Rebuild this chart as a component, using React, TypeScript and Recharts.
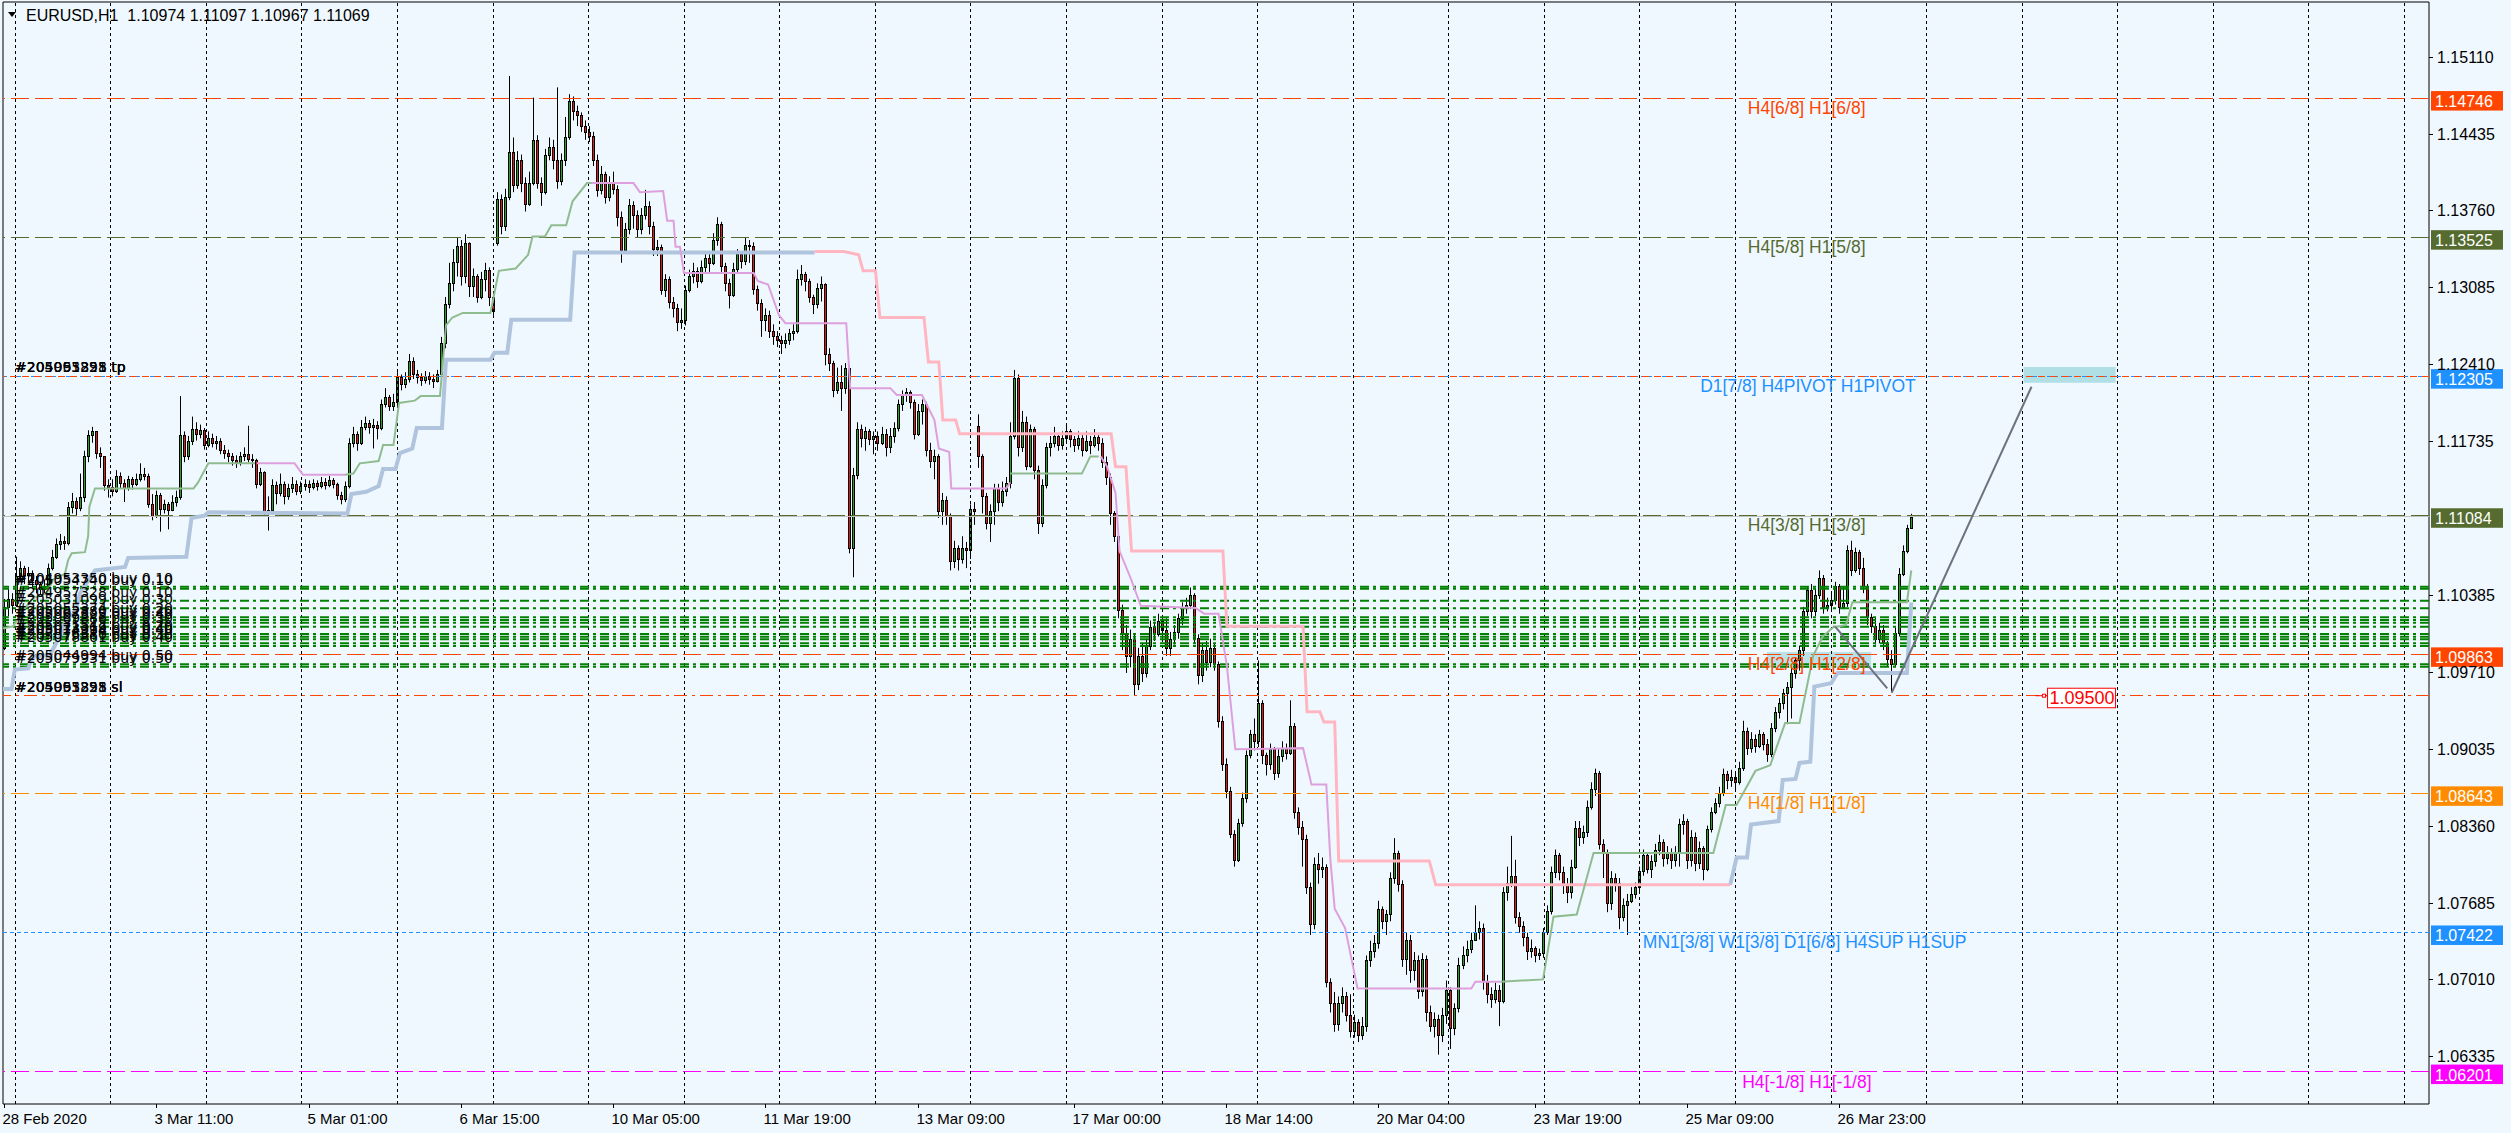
import React from "react";
import {
  ComposedChart,
  XAxis,
  YAxis,
  Bar,
  Line,
  ReferenceLine,
  ReferenceArea,
  ReferenceDot,
} from "recharts";

// EURUSD H1 candles, one tuple per hour: [close, high, low, open?] in pips above 1.0000
// open defaults to the previous close (only gaps carry their own open)
const firstOpen = 992;
const feb28 = [[1028, 1035, 990], [1035, 1045, 1020], [1030, 1040, 1022]];
const mar02 = [
  [1055, 1072, 1028], [1062, 1068, 1050], [1056, 1064, 1048], [1058, 1063, 1050], [1052, 1060, 1045], [1048, 1055, 1040], [1044, 1050, 1038], [1046, 1052, 1040],
  [1062, 1066, 1044], [1072, 1078, 1060], [1083, 1088, 1070], [1086, 1092, 1078], [1084, 1090, 1078], [1116, 1120, 1082], [1121, 1128, 1110], [1115, 1124, 1108],
  [1124, 1145, 1112], [1160, 1165, 1120], [1179, 1183, 1155], [1182, 1186, 1172], [1163, 1182, 1158], [1160, 1168, 1150], [1135, 1160, 1130], [1133, 1140, 1124],
];
const mar03 = [
  [1130, 1140, 1125], [1143, 1148, 1128], [1137, 1146, 1132], [1132, 1140, 1120], [1140, 1143, 1130], [1136, 1142, 1131], [1140, 1145, 1134], [1145, 1154, 1138],
  [1143, 1150, 1139], [1118, 1145, 1115], [1108, 1127, 1104], [1126, 1130, 1106], [1114, 1128, 1094], [1118, 1122, 1110], [1113, 1120, 1096], [1120, 1126, 1112],
  [1124, 1130, 1116], [1179, 1213, 1122], [1160, 1182, 1155], [1174, 1178, 1157], [1184, 1195, 1170], [1180, 1190, 1174], [1183, 1188, 1176], [1170, 1185, 1166],
];
const mar04 = [
  [1176, 1182, 1168], [1172, 1180, 1168], [1174, 1178, 1166], [1166, 1176, 1162], [1163, 1170, 1158], [1160, 1166, 1155], [1157, 1163, 1152], [1155, 1161, 1150],
  [1160, 1164, 1152], [1162, 1168, 1156], [1158, 1187, 1155], [1157, 1162, 1150], [1136, 1158, 1132], [1146, 1150, 1134], [1112, 1147, 1108], [1113, 1125, 1095],
  [1135, 1140, 1110], [1128, 1138, 1118], [1136, 1145, 1125], [1125, 1138, 1118], [1132, 1136, 1122], [1136, 1142, 1128], [1130, 1139, 1126], [1134, 1138, 1127],
];
const mar05 = [
  [1136, 1140, 1130], [1133, 1139, 1128], [1137, 1140, 1131], [1134, 1139, 1130], [1138, 1142, 1132], [1135, 1141, 1131], [1139, 1143, 1133], [1136, 1141, 1132],
  [1126, 1137, 1122], [1123, 1129, 1118], [1134, 1138, 1120], [1172, 1176, 1132], [1180, 1186, 1168], [1172, 1182, 1165], [1186, 1192, 1170], [1189, 1195, 1183],
  [1186, 1192, 1180], [1188, 1193, 1167], [1185, 1191, 1175], [1206, 1210, 1183], [1212, 1220, 1203], [1204, 1214, 1200], [1208, 1215, 1200], [1230, 1234, 1205],
];
const mar06 = [
  [1224, 1232, 1218], [1228, 1234, 1220], [1244, 1250, 1225], [1232, 1247, 1228], [1230, 1236, 1224], [1227, 1233, 1222], [1231, 1235, 1224], [1228, 1234, 1223],
  [1226, 1232, 1220], [1232, 1236, 1225], [1260, 1265, 1228], [1294, 1300, 1255], [1312, 1330, 1290], [1331, 1342, 1305], [1345, 1352, 1318], [1318, 1350, 1310],
  [1347, 1355, 1312], [1310, 1348, 1300], [1318, 1325, 1300], [1300, 1320, 1295], [1316, 1322, 1298], [1324, 1330, 1305], [1300, 1326, 1292], [1288, 1305, 1283],
];
const mar09 = [
  [1386, 1392, 1345, 1347], [1362, 1390, 1355], [1388, 1395, 1358], [1427, 1494, 1385], [1398, 1440, 1392], [1420, 1428, 1395], [1400, 1425, 1392], [1382, 1405, 1375],
  [1400, 1410, 1380], [1438, 1475, 1398], [1400, 1442, 1395], [1392, 1405, 1380], [1425, 1430, 1390], [1432, 1440, 1420], [1420, 1438, 1412], [1402, 1484, 1395],
  [1420, 1426, 1398], [1440, 1458, 1415], [1472, 1478, 1438], [1463, 1476, 1455], [1460, 1468, 1450], [1450, 1462, 1445], [1445, 1455, 1438], [1441, 1450, 1436],
];
const mar10 = [
  [1420, 1445, 1415], [1394, 1425, 1388], [1408, 1415, 1390], [1388, 1410, 1382], [1400, 1406, 1384], [1395, 1410, 1390], [1370, 1398, 1362], [1341, 1375, 1330],
  [1360, 1365, 1338], [1381, 1386, 1355], [1372, 1384, 1360], [1360, 1376, 1352], [1372, 1378, 1355], [1380, 1394, 1368], [1362, 1384, 1355], [1342, 1366, 1336],
  [1344, 1350, 1336], [1306, 1346, 1302], [1316, 1320, 1300], [1296, 1318, 1290], [1290, 1300, 1282], [1278, 1294, 1270], [1280, 1290, 1272], [1306, 1310, 1275],
];
const mar11 = [
  [1318, 1324, 1304], [1323, 1330, 1312], [1314, 1326, 1308], [1326, 1332, 1312], [1334, 1340, 1322], [1330, 1338, 1322], [1350, 1356, 1328], [1364, 1370, 1345],
  [1327, 1366, 1322], [1312, 1330, 1305], [1302, 1316, 1290], [1325, 1330, 1300], [1338, 1342, 1322], [1332, 1340, 1325], [1346, 1352, 1328], [1345, 1350, 1330],
  [1307, 1348, 1302], [1295, 1310, 1288], [1280, 1298, 1265], [1284, 1290, 1270], [1270, 1288, 1264], [1266, 1276, 1258], [1262, 1270, 1256], [1260, 1266, 1250],
];
const mar12 = [
  [1262, 1268, 1255], [1268, 1272, 1258], [1270, 1276, 1262], [1316, 1324, 1268], [1320, 1328, 1310], [1314, 1322, 1305], [1300, 1316, 1295], [1294, 1302, 1285],
  [1308, 1312, 1290], [1311, 1318, 1296], [1250, 1312, 1240], [1242, 1255, 1235], [1218, 1244, 1212], [1225, 1238, 1215], [1220, 1240, 1200], [1238, 1242, 1215],
  [1080, 1240, 1075], [1144, 1150, 1054], [1184, 1190, 1140], [1176, 1188, 1168], [1182, 1186, 1165], [1175, 1184, 1170], [1178, 1182, 1162], [1172, 1182, 1165],
];
const mar13 = [
  [1180, 1186, 1170], [1168, 1184, 1160], [1178, 1185, 1163], [1185, 1190, 1172], [1206, 1210, 1182], [1214, 1218, 1200], [1217, 1220, 1208], [1208, 1218, 1202],
  [1180, 1210, 1175], [1200, 1206, 1178], [1206, 1210, 1188], [1166, 1208, 1160], [1156, 1172, 1150], [1160, 1166, 1140], [1112, 1162, 1106], [1122, 1128, 1100],
  [1108, 1125, 1100], [1068, 1110, 1060], [1080, 1086, 1062], [1070, 1082, 1060], [1080, 1090, 1066], [1078, 1085, 1062], [1114, 1118, 1070], [1112, 1120, 1100],
];
const mar16 = [
  [1160, 1197, 1150, 1187], [1125, 1162, 1110], [1102, 1128, 1096], [1112, 1118, 1085], [1132, 1136, 1100], [1120, 1136, 1112], [1130, 1138, 1116], [1137, 1142, 1125],
  [1178, 1190, 1132], [1229, 1236, 1175], [1168, 1232, 1160], [1190, 1200, 1164], [1152, 1195, 1148], [1184, 1188, 1150], [1148, 1186, 1140], [1102, 1152, 1092],
  [1135, 1140, 1098], [1168, 1172, 1132], [1172, 1178, 1160], [1178, 1186, 1168], [1170, 1180, 1165], [1176, 1182, 1166], [1182, 1188, 1172], [1175, 1184, 1168],
];
const mar17 = [
  [1170, 1178, 1164], [1176, 1182, 1166], [1166, 1180, 1160], [1174, 1182, 1164], [1170, 1178, 1162], [1177, 1184, 1168], [1172, 1180, 1165], [1155, 1176, 1150],
  [1142, 1160, 1135], [1110, 1145, 1100], [1090, 1112, 1085], [1025, 1094, 1018], [1005, 1030, 990], [985, 1012, 970], [1000, 1008, 975], [960, 1004, 950],
  [985, 992, 955], [970, 996, 962], [994, 1000, 966], [1010, 1016, 990], [1004, 1015, 998], [1016, 1022, 1002], [1008, 1020, 1000], [992, 1018, 985],
];
const mar18 = [
  [1000, 1006, 985], [1006, 1012, 995], [1018, 1022, 1000], [1027, 1032, 1012], [1030, 1036, 1022], [1038, 1045, 1026], [1001, 1040, 996], [968, 1004, 960],
  [990, 996, 962], [980, 998, 972], [992, 1000, 975], [978, 996, 972], [928, 980, 922], [890, 932, 884], [866, 895, 860], [829, 870, 825],
  [806, 832, 800], [838, 842, 804], [860, 865, 835], [898, 902, 856], [916, 920, 895], [910, 930, 902], [944, 981, 905], [898, 946, 890],
];
const mar19 = [
  [890, 900, 880], [903, 908, 885], [882, 905, 876], [897, 904, 878], [904, 910, 892], [900, 908, 894], [923, 946, 898], [848, 926, 842],
  [835, 852, 828], [824, 840, 800], [782, 828, 776], [750, 786, 740], [802, 808, 745], [798, 812, 785], [800, 808, 790], [699, 802, 694],
  [680, 702, 672], [662, 690, 655], [680, 686, 656], [686, 694, 672], [670, 690, 664], [656, 688, 650], [664, 670, 650], [652, 666, 646],
];
const mar20 = [
  [660, 668, 648], [718, 722, 655], [726, 735, 712], [733, 740, 720], [763, 770, 728], [752, 765, 745], [758, 762, 740], [790, 795, 752],
  [812, 825, 785], [785, 814, 778], [719, 788, 712], [736, 742, 705], [709, 740, 698], [718, 725, 700], [691, 722, 684], [719, 724, 686],
  [672, 722, 664], [660, 678, 655], [666, 672, 650], [652, 670, 635], [670, 676, 646], [692, 700, 662], [658, 694, 640], [676, 680, 652],
];
const mar23 = [
  [714, 720, 672], [722, 730, 710], [728, 735, 716], [736, 742, 724], [743, 766, 735], [746, 752, 736], [700, 750, 692], [688, 705, 680],
  [684, 694, 676], [692, 698, 680], [682, 696, 660], [778, 782, 680], [786, 800, 770], [792, 827, 782], [756, 806, 750], [748, 760, 742],
  [738, 752, 730], [726, 742, 718], [729, 736, 720], [722, 730, 716], [724, 728, 718], [743, 746, 720], [761, 766, 740], [795, 800, 758],
];
const mar24 = [
  [810, 815, 790], [795, 812, 788], [784, 800, 776], [778, 790, 768], [800, 806, 772], [834, 840, 798], [826, 840, 818], [830, 836, 820],
  [852, 858, 826], [868, 874, 850], [882, 886, 862], [820, 884, 815], [812, 824, 790], [768, 815, 760], [790, 796, 762], [786, 794, 778],
  [756, 790, 745], [766, 772, 752], [770, 776, 740], [776, 782, 768], [782, 786, 772], [796, 800, 778], [810, 815, 792], [798, 812, 794],
];
const mar25 = [
  [805, 810, 790], [815, 820, 800], [822, 828, 810], [808, 824, 800], [812, 818, 802], [806, 816, 798], [812, 818, 800], [837, 842, 800],
  [840, 846, 828], [806, 842, 798], [826, 832, 800], [803, 830, 796], [816, 822, 798], [798, 818, 788], [833, 836, 796], [848, 852, 830],
  [856, 860, 846], [865, 870, 852], [881, 886, 862], [876, 884, 868], [879, 885, 870], [874, 882, 866], [887, 892, 872], [919, 928, 884],
];
const mar26 = [
  [904, 922, 898], [912, 918, 900], [906, 916, 900], [916, 920, 904], [908, 918, 902], [899, 912, 892], [922, 926, 896], [936, 940, 918],
  [944, 948, 930], [952, 956, 938], [958, 962, 925], [970, 974, 930], [981, 984, 965], [990, 994, 972], [1024, 1028, 985], [1043, 1046, 1020],
  [1024, 1048, 1018], [1038, 1044, 1020], [1053, 1060, 1035], [1028, 1056, 1022], [1030, 1036, 1024], [1034, 1040, 1026], [1046, 1050, 1030], [1028, 1048, 1022],
];
const mar27 = [
  [1031, 1046, 1026], [1078, 1082, 1028], [1060, 1086, 1055], [1076, 1080, 1058], [1062, 1078, 1056], [1046, 1071, 1040], [1019, 1048, 1012], [1011, 1022, 1005],
  [1000, 1019, 995], [1008, 1014, 996], [996, 1012, 990], [982, 998, 976], [978, 990, 953], [1005, 1010, 975], [1057, 1062, 1002], [1077, 1082, 1055],
  [1097, 1100, 1075], [1106.9, 1109.7, 1096.7, 1097.4],
];
const days = [feb28, mar02, mar03, mar04, mar05, mar06, mar09, mar10, mar11, mar12, mar13, mar16, mar17, mar18, mar19, mar20, mar23, mar24, mar25, mar26, mar27];

// trailing-stop style indicator lines: [bar index, pips] (null = gap)
const greenTrail = [
  [-0.25, 1009], [2.3, 1011], [4.8, 1025], [7.3, 1036], [10.7, 1040], [12.3, 1052], [15.2, 1057], [16, 1069], [16.9, 1075], [20.2, 1076], [21, 1090], [21.3, 1116], [22.7, 1132], [47.3, 1132], [48.4, 1137], [51, 1154], [62.6, 1154],
  [63, null],
  [85.1, 1144], [87.2, 1145], [88.8, 1154], [93.5, 1156], [94.6, 1170], [97.2, 1170], [98.6, 1207], [102.5, 1209], [104, 1213], [108.8, 1213], [110.3, 1275], [111.9, 1282], [114.5, 1286], [121.4, 1286], [123.5, 1323], [127.7, 1325], [130.8, 1337], [131.9, 1353], [135, 1353], [136.6, 1363], [140.3, 1363], [141.9, 1384], [145.5, 1400], [152.4, 1400],
  [153, null],
  [251.1, 1145], [269, 1145], [271.1, 1160], [273.2, 1160],
  [274, null],
  [373.5, 699], [384.1, 701], [386.7, 756], [392.5, 758], [396.7, 812], [426.6, 812], [429.7, 854], [432.4, 854], [437.1, 884], [440.8, 889], [444.5, 926], [448.1, 926], [451.5, 985], [453.9, 1002], [456.5, 1010], [459.7, 1012], [461.3, 1032], [474.9, 1032], [476, 1060],
];
const plumTrail = [
  [63.1, 1154], [72.5, 1154], [74.6, 1144], [85.1, 1144],
  [86, null],
  [146.6, 1400], [157.1, 1400], [158.7, 1392], [164.5, 1393], [165.5, 1367], [167.1, 1367], [167.6, 1344], [168.7, 1344], [169.7, 1321], [187.1, 1321], [188.1, 1314], [190.7, 1311], [193.4, 1284], [195, 1277], [210.2, 1277], [211.2, 1220], [221.2, 1220], [222.8, 1214], [229.1, 1214], [232.2, 1192], [233.3, 1167], [235.9, 1164], [236.4, 1132], [250.1, 1132], [251.1, 1137],
  [252, null],
  [273.7, 1160], [275.3, 1151], [277.4, 1128], [278.4, 1077], [281.1, 1054], [283.7, 1029], [297.4, 1027], [299.5, 1022], [303.1, 1022], [305.2, 976], [307.3, 903], [324.2, 904], [326.3, 872], [330, 872], [331, 807], [332.1, 763], [334.7, 746], [337.8, 693], [366.2, 693], [367.2, 699], [373.5, 699],
];
const steelTrail = [
  [-0.25, 956], [1.9, 956], [2.7, 973], [6.1, 974], [6.9, 984], [11.5, 986], [14.4, 1005], [15.6, 1019], [17.7, 1022], [19, 1040], [22.7, 1060], [30.2, 1063], [31, 1071], [45.5, 1072], [46.8, 1106], [50, 1108], [51, 1111], [85.7, 1110], [86.7, 1127], [90.4, 1129], [93.5, 1134], [94.6, 1149], [97.7, 1149], [98.8, 1163], [101.9, 1167], [103, 1185], [109.3, 1185], [110.3, 1245], [121.4, 1245], [122.4, 1251], [125.6, 1251], [126.6, 1280], [141.3, 1280], [142.4, 1339], [202.3, 1339],
  [203, null],
  [430.8, 784], [432.4, 808], [435, 808], [436, 837], [442.9, 840], [443.9, 876], [447.1, 877], [448.1, 891], [450.8, 892], [451.8, 958], [456, 961], [457.6, 970], [474.9, 970], [476, 1032],
];
const pinkTrail = [
  [202.3, 1340], [209.6, 1340], [213.3, 1337], [214.4, 1323], [217.5, 1323], [218.6, 1282], [229.6, 1282], [230.7, 1243], [233.3, 1243], [234.3, 1192], [237.5, 1192], [238.5, 1180], [276.3, 1180], [277.4, 1151], [280, 1151], [281.4, 1077], [304.2, 1077], [305.2, 1011], [324.2, 1011], [325.2, 936], [328.4, 936], [329.4, 927], [332.1, 927], [333.1, 805], [355.7, 805], [357.3, 784], [430.8, 784],
];

const timeTickBars = [0, 38, 76, 114, 152, 190, 228, 267, 305, 343, 382, 420, 458];
const timeTickLabels = ["28 Feb 2020", "3 Mar 11:00", "5 Mar 01:00", "6 Mar 15:00", "10 Mar 05:00", "11 Mar 19:00", "13 Mar 09:00", "17 Mar 00:00", "18 Mar 14:00", "20 Mar 04:00", "23 Mar 19:00", "25 Mar 09:00", "26 Mar 23:00"];
const priceTicks = [1.1511, 1.14435, 1.1376, 1.13085, 1.1241, 1.11735, 1.10385, 1.0971, 1.09035, 1.0836, 1.07685, 1.0701, 1.06335];

const levelPrices = [1.14746, 1.13525, 1.12305, 1.11084, 1.09863, 1.08643, 1.07422, 1.06201];
const levelNames = ["H4[6/8] H1[6/8]", "H4[5/8] H1[5/8]", "D1[7/8] H4PIVOT H1PIVOT", "H4[3/8] H1[3/8]", "H4[2/8] H1[2/8]", "H4[1/8] H1[1/8]", "MN1[3/8] W1[3/8] D1[6/8] H4SUP H1SUP", "H4[-1/8] H1[-1/8]"];

const bidPrice = 1.11069;
const tpPrice = 1.12305;
const slPrice = 1.095;
const orderPrices = [1.10457, 1.10439, 1.10334, 1.10267, 1.10188, 1.10165, 1.10141, 1.10106, 1.10042, 1.10018, 1.09995, 1.0996, 1.09937, 1.09776, 1.09755];
const orderTickets = [
  "#204953350 buy 0.10", "#205054740 buy 0.10", "#204957328 buy 0.10", "#205031099 buy 0.30", "#205055374 buy 0.20",
  "#205062880 buy 0.20", "#205067325 buy 0.40", "#205069886 buy 0.30", "#205071542 buy 0.20", "#205073319 buy 0.40",
  "#205074994 buy 0.40", "#205076580 buy 0.30", "#205078861 buy 0.40", "#205044994 buy 0.50", "#205079931 buy 0.50",
];
const tpTickets = ["#205053898 tp", "#204995221 tp", "#205061355 tp"];
const slTickets = ["#205053898 sl", "#204995221 sl", "#205061355 sl"];

const zigzagDown = [[457, 1.10106], [470, 1.09565]];
const zigzagUp = [[471.1, 1.09526], [506, 1.12212]];
const targetBox = { x1: 504, x2: 527, y1: 1.12248, y2: 1.12385 };
const pivotBox = { x1: 440, x2: 466, y1: 1.09744, y2: 1.09884 };

const headerText = "EURUSD,H1  1.10974 1.11097 1.10967 1.11069";

// ---- layout / styles ----
const W = 2511;
const H = 1133;
const XMIN = -0.25;
const XMAX = 605.2;
const YMIN = 1.0591636;
const YMAX = 1.1558926;
const GRID_START = 2.82;
const GRID_STEP = 23.85;
const BG = "#F0F8FF";
const BULL = "#26A326";
const BEAR = "#E31A1A";
const SANS = "'Liberation Sans', Arial, sans-serif";
const DASH = "18 6";
const DOT = "4 3";
const LEVEL_STYLE = [
  { color: "#FF4500", dash: DASH, at: 435.2 },
  { color: "#556B2F", dash: DASH, at: 435.2 },
  { color: "#1E90FF", dash: DOT, at: 423.3 },
  { color: "#556B2F", dash: DASH, at: 435.2 },
  { color: "#FF4500", dash: DASH, at: 435.2 },
  { color: "#FF8C00", dash: DASH, at: 435.2 },
  { color: "#1E90FF", dash: DOT, at: 409 },
  { color: "#FF00FF", dash: DASH, at: 433.8 },
];
const ORDER_LABEL_AT = 2.75;
const SL_TAG_AT = 510;

const pip = (v: number) => 1 + v / 10000;

type Candle = { i: number; o: number; h: number; l: number; c: number };
const candles: Candle[] = [];
let prevClose = firstOpen;
days.forEach((day) =>
  day.forEach((t) => {
    const [c, h, l, o] = t as number[];
    const open = o ?? prevClose;
    candles.push({
      i: candles.length,
      o: pip(open),
      h: pip(Math.max(h, open, c)),
      l: pip(Math.min(l, open, c)),
      c: pip(c),
    });
    prevClose = c;
  })
);

const toPts = (arr: (number | null)[][]) => arr.map(([i, v]) => ({ i, v: v == null ? null : pip(v) }));
const gridBars = Array.from({ length: 26 }, (_, k) => GRID_START + GRID_STEP * k);
const tickLabelOf = new Map(timeTickBars.map((b, k) => [b, timeTickLabels[k]]));

function CandleShape(props: any) {
  const { x, y, width, height, payload } = props;
  if (!payload || x == null || y == null) return null;
  const top = Math.min(y, y + height);
  const bot = Math.max(y, y + height);
  const span = payload.h - payload.l;
  const toY = (v: number) => (span > 0 ? top + ((payload.h - v) / span) * (bot - top) : top);
  const cx = Math.round(x + width / 2);
  const yo = toY(payload.o);
  const yc = toY(payload.c);
  const bt = Math.round(Math.min(yo, yc)) + 0.5;
  const bb = Math.max(Math.round(Math.max(yo, yc)) + 0.5, bt + 1);
  return (
    <g>
      <line x1={cx + 0.5} x2={cx + 0.5} y1={top} y2={bot} stroke="#000" strokeWidth={1} />
      <rect x={cx - 0.5} y={bt} width={2} height={bb - bt} fill={payload.c >= payload.o ? BULL : BEAR} stroke="#000" strokeWidth={1} />
    </g>
  );
}

function TimeTick(props: any) {
  const { x, y, payload } = props;
  const label = tickLabelOf.get(payload.value);
  const px = Math.round(x) + 0.5;
  return (
    <g>
      <line x1={px} x2={px} y1={y} y2={y + 4} stroke="#000" />
      <text x={px - 2} y={y + 20} fontSize={15} fontFamily={SANS} fill="#000">
        {label}
      </text>
    </g>
  );
}

function PriceTick(props: any) {
  const { x, y, payload } = props;
  const py = Math.round(y) + 0.5;
  return (
    <g>
      <line x1={x} x2={x + 4} y1={py} y2={py} stroke="#000" />
      <text x={x + 8} y={y + 6} fontSize={16} fontFamily={SANS} fill="#000">
        {payload.value.toFixed(5)}
      </text>
    </g>
  );
}

const levelText = (text: string, color: string) => (p: any) => (
  <text x={p.cx} y={p.cy + 16} fontSize={17.5} fontFamily={SANS} fill={color}>
    {text}
  </text>
);

const priceTag = (price: number, color: string) => (p: any) => (
  <g>
    <rect x={p.cx + 2} y={p.cy - 7} width={72} height={19.5} fill={color} />
    <text x={p.cx + 6} y={p.cy + 9} fontSize={16} fontFamily={SANS} fill="#fff">
      {price.toFixed(5)}
    </text>
  </g>
);

const orderText = (texts: string[]) => (p: any) => (
  <g>
    {texts.map((t, k) => (
      <text key={k} x={p.cx} y={p.cy - 4} fontSize={14} fontFamily="'DejaVu Sans', sans-serif" fill="#000">
        {t}
      </text>
    ))}
  </g>
);

const slTag = (p: any) => (
  <g>
    <line x1={p.cx - 12} x2={p.cx} y1={p.cy} y2={p.cy} stroke="#FF0000" />
    <rect x={p.cx - 5} y={p.cy - 1.5} width={3} height={3} fill="#fff" stroke="#FF0000" />
    <rect x={p.cx} y={p.cy - 7.5} width={68} height={19.5} fill="#fff" stroke="#FF0000" />
    <text x={p.cx + 2} y={p.cy + 8} fontSize={18} fontFamily={SANS} fill="#FF0000">
      {slPrice.toFixed(5)}
    </text>
  </g>
);

export default function App() {
  return (
    <div style={{ position: "absolute", left: 0, top: 0, width: W, height: H, background: BG, overflow: "hidden" }}>
      <ComposedChart width={W} height={H} data={candles} margin={{ top: 2, right: 0, bottom: 0, left: 3 }}>
        <XAxis
          type="number"
          dataKey="i"
          domain={[XMIN, XMAX]}
          allowDataOverflow
          ticks={timeTickBars}
          interval={0}
          height={29}
          tickSize={0}
          tickMargin={0}
          axisLine={false}
          tickLine={false}
          tick={TimeTick}
        />
        <YAxis
          orientation="right"
          type="number"
          domain={[YMIN, YMAX]}
          allowDataOverflow
          ticks={priceTicks}
          interval={0}
          width={82}
          tickSize={0}
          tickMargin={0}
          axisLine={false}
          tickLine={false}
          tick={PriceTick}
        />

        <ReferenceArea {...targetBox} fill="#B0E0E6" fillOpacity={1} stroke="none" />
        <ReferenceArea {...pivotBox} fill="#B0E0E6" fillOpacity={0.9} stroke="none" />

        {gridBars.map((g) => (
          <ReferenceLine key={`g${g}`} x={g} stroke="#000" strokeDasharray="3 3" shapeRendering="crispEdges" />
        ))}

        {levelPrices.map((p, k) => (
          <ReferenceLine key={`lv${k}`} y={p} stroke={LEVEL_STYLE[k].color} strokeDasharray={LEVEL_STYLE[k].dash} shapeRendering="crispEdges" />
        ))}
        <ReferenceLine y={tpPrice} stroke="#FF4500" strokeDasharray="7 5" shapeRendering="crispEdges" />
        <ReferenceLine y={slPrice} stroke="#FF4500" strokeDasharray="13 5 3 5" shapeRendering="crispEdges" />
        <ReferenceLine y={bidPrice} stroke="#C0C0C0" shapeRendering="crispEdges" />
        {orderPrices.map((p, k) => (
          <ReferenceLine key={`op${k}`} y={p} stroke="#008000" strokeWidth={2} strokeDasharray="9 4 3 4" />
        ))}

        <Line data={toPts(steelTrail)} dataKey="v" type="linear" stroke="#B0C4DE" strokeWidth={4} dot={false} activeDot={false} isAnimationActive={false} />
        <Line data={toPts(pinkTrail)} dataKey="v" type="linear" stroke="#FFB6C1" strokeWidth={3} dot={false} activeDot={false} isAnimationActive={false} />
        <Line data={toPts(greenTrail)} dataKey="v" type="linear" stroke="#8FBC8F" strokeWidth={2} dot={false} activeDot={false} isAnimationActive={false} />
        <Line data={toPts(plumTrail)} dataKey="v" type="linear" stroke="#DDA0DD" strokeWidth={2} dot={false} activeDot={false} isAnimationActive={false} />

        <Bar dataKey={(d: Candle) => [d.l, d.h]} barSize={3} shape={CandleShape} isAnimationActive={false} />

        <ReferenceLine
          segment={[{ x: zigzagDown[0][0], y: zigzagDown[0][1] }, { x: zigzagDown[1][0], y: zigzagDown[1][1] }]}
          stroke="#6E7180"
          strokeWidth={2}
        />
        <ReferenceLine
          segment={[{ x: zigzagUp[0][0], y: zigzagUp[0][1] }, { x: zigzagUp[1][0], y: zigzagUp[1][1] }]}
          stroke="#6E7180"
          strokeWidth={2}
        />

        {levelPrices.map((p, k) => (
          <ReferenceDot key={`lt${k}`} x={LEVEL_STYLE[k].at} y={p} ifOverflow="visible" shape={levelText(levelNames[k], LEVEL_STYLE[k].color)} />
        ))}
        {orderPrices.map((p, k) => (
          <ReferenceDot key={`ot${k}`} x={ORDER_LABEL_AT} y={p} ifOverflow="visible" shape={orderText([orderTickets[k]])} />
        ))}
        <ReferenceDot x={ORDER_LABEL_AT} y={tpPrice} ifOverflow="visible" shape={orderText(tpTickets)} />
        <ReferenceDot x={ORDER_LABEL_AT} y={slPrice} ifOverflow="visible" shape={orderText(slTickets)} />
        <ReferenceDot x={SL_TAG_AT} y={slPrice} ifOverflow="visible" shape={slTag} />
        {levelPrices.map((p, k) => (
          <ReferenceDot key={`pt${k}`} x={XMAX} y={p} ifOverflow="visible" shape={priceTag(p, LEVEL_STYLE[k].color)} />
        ))}

        <ReferenceArea x1={XMIN} x2={XMAX} y1={YMIN} y2={YMAX} fill="none" stroke="#000" strokeWidth={1} />
      </ComposedChart>
      <svg style={{ position: "absolute", left: 0, top: 0 }} width={420} height={28}>
        <polygon points="8,12 16,12 12,17" fill="#000" />
        <text x={26} y={21} fontSize={16} fontFamily={SANS} fill="#000" style={{ whiteSpace: "pre" }}>
          {headerText}
        </text>
      </svg>
    </div>
  );
}
